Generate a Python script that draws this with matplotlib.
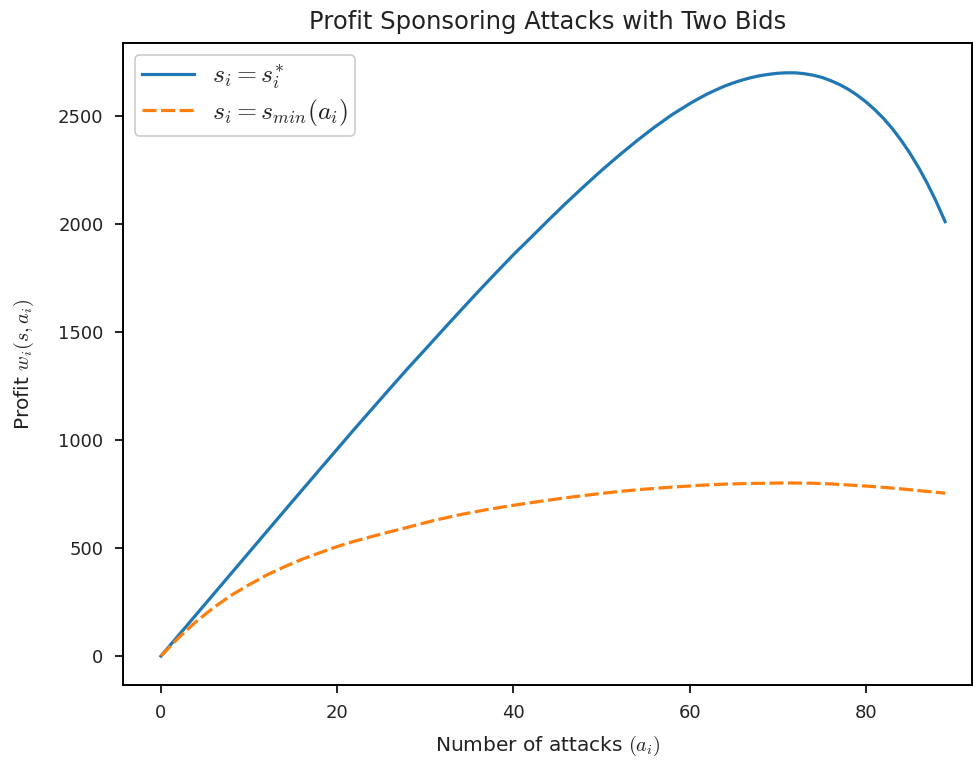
import matplotlib
matplotlib.use("Agg")
import matplotlib.pyplot as plt

attacks_star = [0, 5, 10, 15, 20, 22, 24, 26, 28, 30, 32, 34, 36, 38, 40, 42, 44, 46,
                48, 50, 52, 54, 56, 58, 60, 61, 62, 63, 64, 65, 66, 67, 68, 69, 70, 71,
                72, 73, 74, 75, 76, 77, 78, 79, 80, 81, 82, 83, 84, 85, 86, 87, 88, 89]
profit_star = [0, 240, 480, 720, 958, 1053, 1146, 1239, 1331, 1420, 1510, 1599, 1687,
               1773, 1858, 1938, 2019, 2098, 2174, 2248, 2318, 2385, 2448, 2506, 2557,
               2580, 2602, 2621, 2639, 2654, 2667, 2678, 2687, 2693, 2698, 2700, 2700,
               2696, 2689, 2679, 2664, 2646, 2624, 2597, 2566, 2530, 2489, 2442, 2388,
               2328, 2261, 2186, 2103, 2011]

attacks_min = [0, 2, 4, 6, 8, 10, 12, 14, 16, 18, 20, 22, 25, 28, 31, 34, 37, 40, 43, 46,
               49, 52, 55, 58, 61, 64, 67, 70, 72, 74, 76, 78, 80, 82, 84, 86, 88, 89]
profit_min = [0, 85, 160, 225, 282, 330, 375, 413, 448, 478, 507, 532, 565, 596, 628,
              655, 678, 698, 716, 733, 748, 762, 773, 782, 790, 796, 799, 801, 801, 800,
              797, 792, 787, 781, 774, 766, 758, 754]

labels = [r"$s_i = s_i^{*}$", r"$s_i = s_{min}(a_i)$"]
title = "Profit Sponsoring Attacks with Two Bids"
xlabel = r"Number of attacks $(a_i)$"
ylabel = r"Profit $w_i(s, a_i)$"

plt.rcParams["font.family"] = ["DejaVu Sans"]
plt.rcParams["mathtext.fontset"] = "cm"
plt.rcParams["axes.linewidth"] = 1.4
plt.rcParams["xtick.major.width"] = 1.4
plt.rcParams["ytick.major.width"] = 1.4
plt.rcParams["xtick.major.size"] = 6
plt.rcParams["ytick.major.size"] = 6

fig = plt.figure(figsize=(9.73, 7.6), dpi=100)
ax = fig.add_axes([123 / 973, 1 - 685 / 760, (972 - 123) / 973, (685 - 43) / 760])

ax.plot(attacks_star, profit_star, color="#1f77b4", lw=2.3, label=labels[0])
ax.plot(attacks_min, profit_min, color="#ff7f0e", lw=2.3, ls="--", dashes=(4.4, 1.4),
        label=labels[1])

ax.set_xlim(-4.31, 92.05)
ax.set_ylim(-134, 2838)
ax.set_xticks([0, 20, 40, 60, 80])
ax.set_yticks([0, 500, 1000, 1500, 2000, 2500])
ax.tick_params(labelsize=13, colors="#222222")
ax.tick_params(axis="x", pad=8)
ax.tick_params(axis="y", pad=8)

ax.set_title(title, fontsize=17.5, color="#222222", pad=10)
ax.set_xlabel(xlabel, fontsize=14.5, color="#222222", labelpad=8)
ax.set_ylabel(ylabel, fontsize=14.5, color="#222222", labelpad=16)

leg = ax.legend(loc="upper left", fontsize=18.5, frameon=True, fancybox=True,
                edgecolor="#cccccc", framealpha=1, handlelength=2.0, handletextpad=0.7,
                borderpad=0.3, labelspacing=0.25, borderaxespad=0.45)
leg.get_frame().set_linewidth(1.2)
for t in leg.get_texts():
    t.set_color("#222222")

fig.savefig("out.png", dpi=100)
